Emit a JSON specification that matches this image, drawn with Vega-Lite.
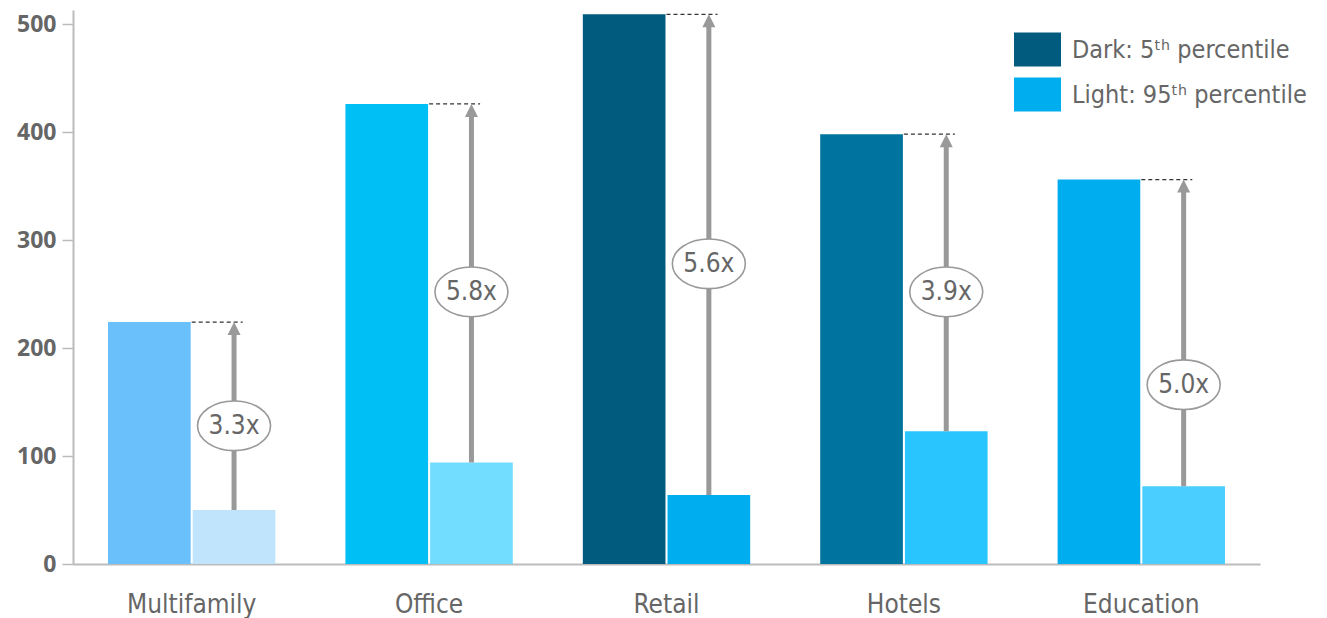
{
  "$schema": "https://vega.github.io/schema/vega-lite/v6.json",
  "width": 1187,
  "height": 554,
  "autosize": "none",
  "padding": {"left": 73, "top": 10, "right": 67, "bottom": 54},
  "background": "white",
  "config": {"view": {"stroke": null}},
  "datasets": {
    "bars": [
      {"category": "Multifamily", "series": "Dark", "value": 224, "color": "#69C0FA"},
      {"category": "Multifamily", "series": "Light", "value": 50, "color": "#C0E4FB"},
      {"category": "Office", "series": "Dark", "value": 426, "color": "#00BFF4"},
      {"category": "Office", "series": "Light", "value": 94, "color": "#72DDFF"},
      {"category": "Retail", "series": "Dark", "value": 509, "color": "#005B7F"},
      {"category": "Retail", "series": "Light", "value": 64, "color": "#00AEEF"},
      {"category": "Hotels", "series": "Dark", "value": 398, "color": "#00739E"},
      {"category": "Hotels", "series": "Light", "value": 123, "color": "#29C5FF"},
      {"category": "Education", "series": "Dark", "value": 356, "color": "#00ADEE"},
      {"category": "Education", "series": "Light", "value": 72, "color": "#4ACEFF"}
    ],
    "pairs": [
      {"category": "Multifamily", "high": 224, "low": 50, "ratio": "3.3x", "labelAt": 128},
      {"category": "Office", "high": 426, "low": 94, "ratio": "5.8x", "labelAt": 252},
      {"category": "Retail", "high": 509, "low": 64, "ratio": "5.6x", "labelAt": 278},
      {"category": "Hotels", "high": 398, "low": 123, "ratio": "3.9x", "labelAt": 252},
      {"category": "Education", "high": 356, "low": 72, "ratio": "5.0x", "labelAt": 166}
    ]
  },
  "encoding": {
    "x": {
      "field": "category",
      "type": "nominal",
      "sort": null,
      "scale": {"domain": ["Multifamily", "Office", "Retail", "Hotels", "Education"], "paddingInner": 0.295, "paddingOuter": 0.1475},
      "axis": {
        "title": null,
        "ticks": false,
        "labelAngle": 0,
        "domainColor": "#BBBBBB",
        "domainWidth": 2,
        "labelFont": "Liberation Sans Narrow, DejaVu Sans Condensed, sans-serif",
        "labelFontSize": 26,
        "labelColor": "#666666",
        "labelPadding": 27
      }
    }
  },
  "layer": [
    {
      "data": {"name": "bars"},
      "mark": {"type": "bar"},
      "encoding": {
        "xOffset": {"field": "series", "type": "nominal", "scale": {"domain": ["Dark", "Light"], "paddingInner": 0.024}},
        "y": {
          "field": "value",
          "type": "quantitative",
          "scale": {"domain": [0, 513], "nice": false},
          "axis": {
            "title": null,
            "grid": false,
            "values": [0, 100, 200, 300, 400, 500],
            "domainColor": "#BBBBBB",
            "domainWidth": 2,
            "tickColor": "#BBBBBB",
            "tickWidth": 1.5,
            "tickSize": 11,
            "labelFont": "Open Sans, Lato, sans-serif",
            "labelFontWeight": "bold",
            "labelFontSize": 23,
            "labelColor": "#666666",
            "labelPadding": 6
          }
        },
        "color": {"field": "color", "type": "nominal", "scale": null, "legend": null}
      }
    },
    {
      "data": {"name": "pairs"},
      "mark": {"type": "rule", "color": "#333333", "strokeWidth": 1.2, "strokeDash": [4, 3], "x2Offset": 51},
      "encoding": {
        "x": {"field": "category", "type": "nominal", "bandPosition": 0.5},
        "x2": {"field": "category"},
        "y": {"field": "high", "type": "quantitative"}
      }
    },
    {
      "data": {"name": "pairs"},
      "mark": {"type": "rule", "color": "#999999", "strokeWidth": 5, "y2Offset": 8},
      "encoding": {
        "xOffset": {"datum": "Light", "type": "nominal"},
        "y": {"field": "low", "type": "quantitative"},
        "y2": {"field": "high"}
      }
    },
    {
      "data": {"name": "pairs"},
      "mark": {"type": "point", "shape": "M0,0L-1,2L1,2Z", "size": 169, "filled": true, "color": "#999999", "opacity": 1},
      "encoding": {
        "xOffset": {"datum": "Light", "type": "nominal"},
        "y": {"field": "high", "type": "quantitative"}
      }
    },
    {
      "data": {"name": "pairs"},
      "mark": {"type": "point", "shape": "M-1,0A1,0.68,0,1,0,1,0A1,0.68,0,1,0,-1,0Z", "size": 5329, "filled": true, "fill": "white", "stroke": "#999999", "strokeWidth": 1.6, "opacity": 1},
      "encoding": {
        "xOffset": {"datum": "Light", "type": "nominal"},
        "y": {"field": "labelAt", "type": "quantitative"}
      }
    },
    {
      "data": {"name": "pairs"},
      "mark": {"type": "text", "font": "Liberation Sans Narrow, DejaVu Sans Condensed, sans-serif", "fontSize": 26, "color": "#666666", "align": "center", "baseline": "middle"},
      "encoding": {
        "xOffset": {"datum": "Light", "type": "nominal"},
        "y": {"field": "labelAt", "type": "quantitative"},
        "text": {"field": "ratio"}
      }
    },
    {
      "data": {"values": [{"legend": "Dark: 5ᵗʰ percentile"}, {"legend": "Light: 95ᵗʰ percentile"}]},
      "mark": {"type": "square", "opacity": 0},
      "encoding": {
        "x": {"value": 0},
        "y": {"value": 0},
        "color": {
          "field": "legend",
          "type": "nominal",
          "scale": {"domain": ["Dark: 5ᵗʰ percentile", "Light: 95ᵗʰ percentile"], "range": ["#005B7F", "#00AEEF"]},
          "legend": {
            "title": null,
            "orient": "none",
            "legendX": 941,
            "legendY": 16,
            "symbolType": "M-1,-0.72L1,-0.72L1,0.72L-1,0.72Z",
            "symbolSize": 2209,
            "symbolOpacity": 1,
            "symbolStrokeWidth": 0,
            "labelFont": "Liberation Sans Narrow, DejaVu Sans Condensed, sans-serif",
            "labelFontSize": 25,
            "labelColor": "#666666",
            "labelOffset": 11,
            "rowPadding": 4,
            "labelLimit": 400
          }
        }
      }
    }
  ],
  "resolve": {"scale": {"color": "independent"}}
}
